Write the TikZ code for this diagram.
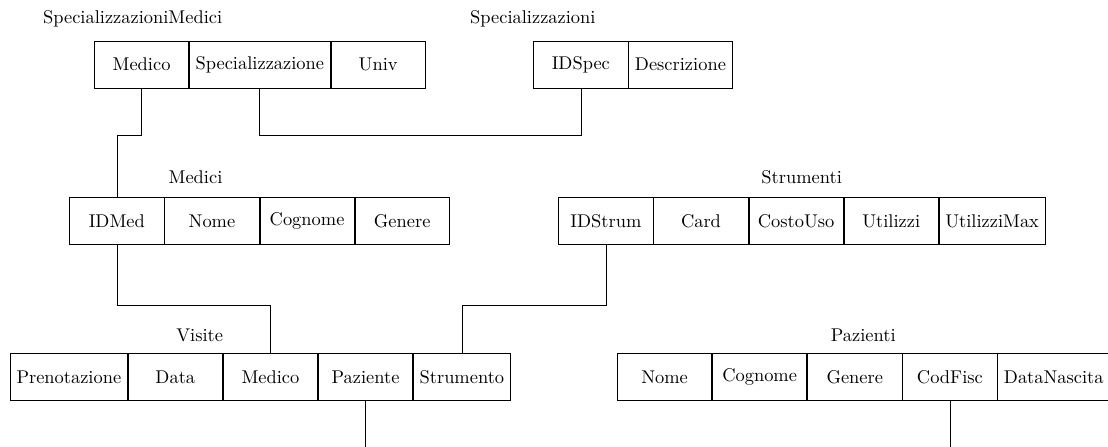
\documentclass[tikz,border=0pt]{standalone}
\usetikzlibrary{positioning}
\begin{document}
\begin{tikzpicture}[campo/.style={draw, minimum width=1.8cm, minimum height=0.9cm},
        tabella/.style={anchor=base}]
        \useasboundingbox (0,0) rectangle (21.133,-8.507);
        % SpecializzazioniMedici
        \node[tabella] (tSM) at (2.53,-0.444){SpecializzazioniMedici};
        \node[campo, anchor=west] (smMedico) at (1.793,-1.233){Medico};
        \node[campo, right=0pt of smMedico] (smSpec){Specializzazione};
        \node[campo, right=0pt of smSpec] (smUniv){Univ};
        % Specializzazioni
        \node[tabella] (tSP) at (10.163,-0.444){Specializzazioni};
        \node[campo, anchor=west] (spID) at (10.172,-1.233){IDSpec};
        \node[campo, right=0pt of spID] (spDescr){Descrizione};
        % Medici
        \node[tabella] (tMD) at (3.729,-3.509){Medici};
        \node[campo, anchor=west] (mdID) at (1.322,-4.218){IDMed};
        \node[campo, right=0pt of mdID] (mdNome){Nome};
        \node[campo, right=0pt of mdNome] (mdCognome){Cognome};
        \node[campo, right=0pt of mdCognome] (mdGenere){Genere};
        % Strumenti
        \node[tabella] (tST) at (15.29,-3.509){Strumenti};
        \node[campo, anchor=west] (stID) at (10.649,-4.218){IDStrum};
        \node[campo, right=0pt of stID] (stCard){Card};
        \node[campo, right=0pt of stCard] (stCosto){CostoUso};
        \node[campo, right=0pt of stCosto] (stUtil){Utilizzi};
        \node[campo, right=0pt of stUtil] (stUtilMax){UtilizziMax};
        % Visite
        \node[tabella] (tVS) at (3.809,-6.517){Visite};
        \node[campo, anchor=west] (vsPren) at (0.191,-7.193){Prenotazione};
        \node[campo, right=0pt of vsPren] (vsData){Data};
        \node[campo, right=0pt of vsData] (vsMedico){Medico};
        \node[campo, right=0pt of vsMedico] (vsPaziente){Paziente};
        \node[campo, right=0pt of vsPaziente] (vsStrum){Strumento};
        % Pazienti
        \node[tabella] (tPZ) at (16.466,-6.517){Pazienti};
        \node[campo, anchor=west] (pzNome) at (11.768,-7.193){Nome};
        \node[campo, right=0pt of pzNome] (pzCognome){Cognome};
        \node[campo, right=0pt of pzCognome] (pzGenere){Genere};
        \node[campo, right=0pt of pzGenere] (pzCF){CodFisc};
        \node[campo, right=0pt of pzCF] (pzNascita){DataNascita};
        % collegamenti
        \draw (smMedico.south) -- ++(0,-0.9) -| (mdID.north);
        \draw (smSpec.south) -- ++(0,-0.9) -| (spID.south);
        \draw (mdID.south) -- ++(0,-1.15) -| (vsMedico.north);
        \draw (stID.south) -- ++(0,-1.15) -| (vsStrum.north);
        \draw (vsPaziente.south) -- ++(0,-0.9);
        \draw (pzCF.south) -- ++(0,-0.9);
    \end{tikzpicture}
\end{document}
